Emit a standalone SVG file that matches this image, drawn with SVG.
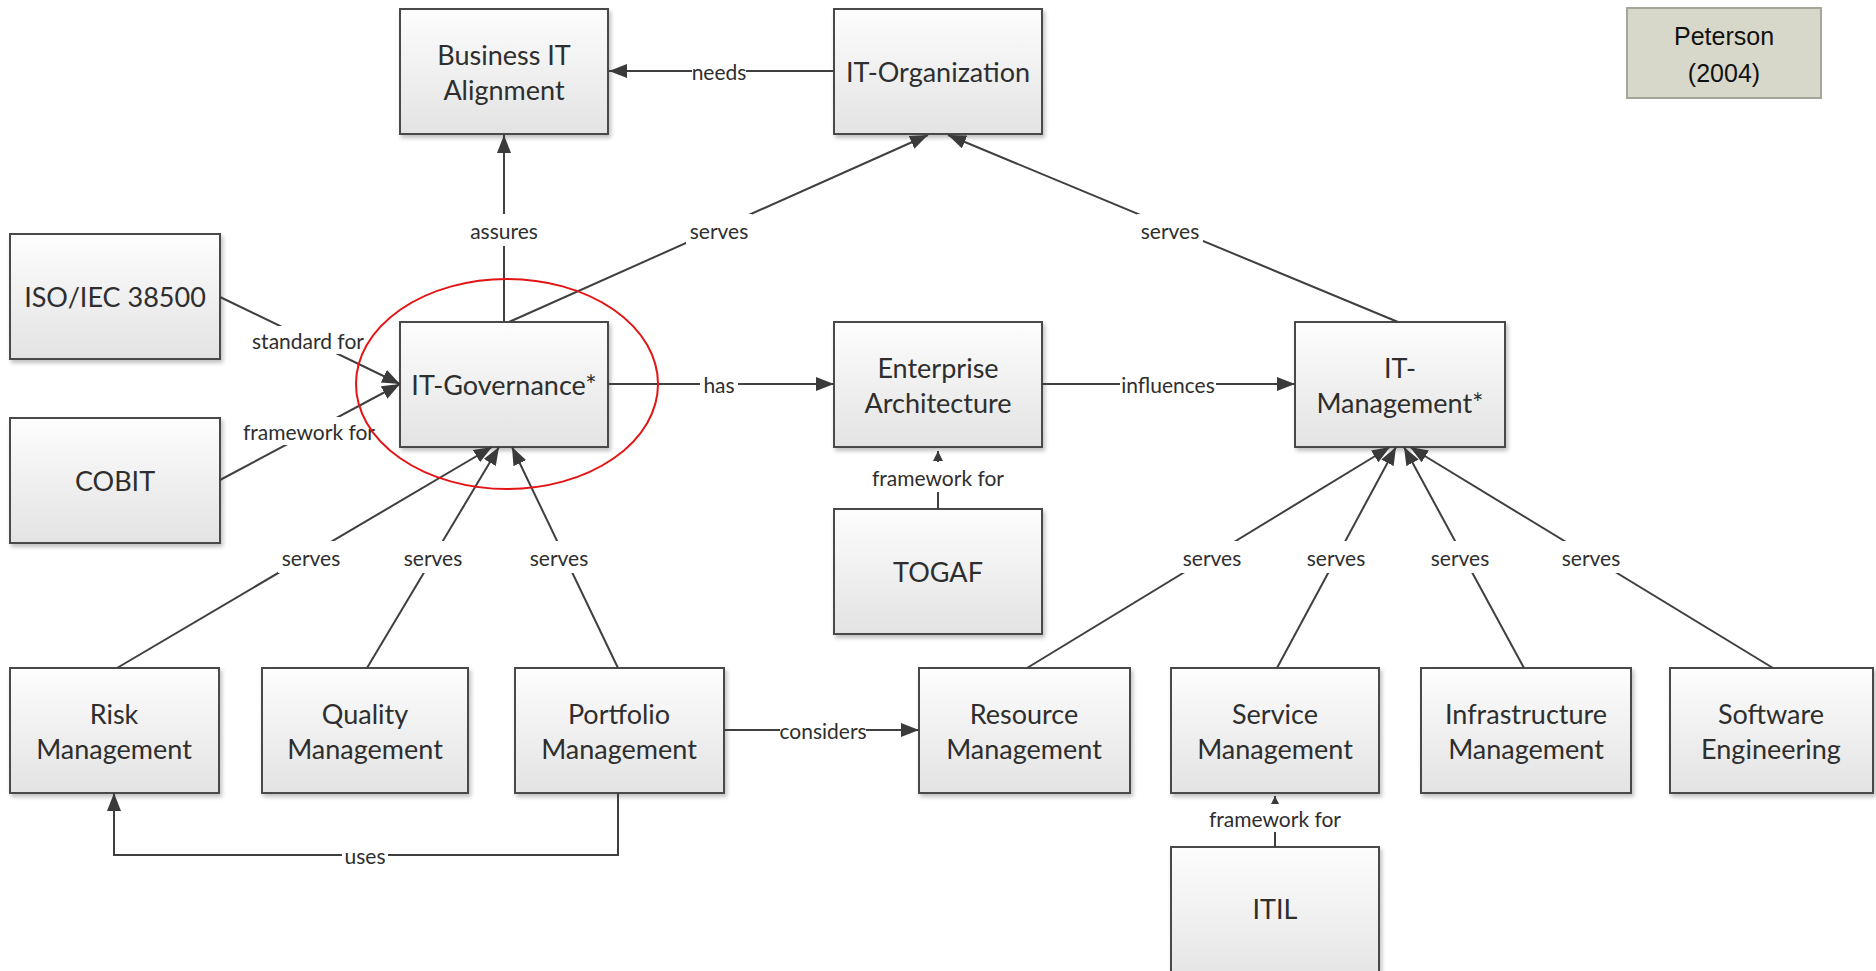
<svg xmlns="http://www.w3.org/2000/svg" width="1876" height="971" viewBox="0 0 1876 971">
<defs>
<linearGradient id="g" x1="0" y1="0" x2="0" y2="1"><stop offset="0" stop-color="#fdfdfd"/><stop offset="1" stop-color="#e3e3e3"/></linearGradient>
<filter id="sh" x="-10%" y="-10%" width="130%" height="130%"><feGaussianBlur in="SourceAlpha" stdDeviation="2"/><feOffset dx="2" dy="3"/><feComponentTransfer><feFuncA type="linear" slope="0.25"/></feComponentTransfer><feMerge><feMergeNode/><feMergeNode in="SourceGraphic"/></feMerge></filter>
<marker id="ah" markerUnits="userSpaceOnUse" markerWidth="18" markerHeight="14" refX="18" refY="7" orient="auto"><path d="M0,0 L18,7 L0,14 z" fill="#3a3a3a"/></marker>
<marker id="as" markerUnits="userSpaceOnUse" markerWidth="10" markerHeight="10" refX="10" refY="5" orient="auto"><path d="M0,0 L10,5 L0,10 z" fill="#3a3a3a"/></marker>
</defs>
<style>
.box rect{fill:url(#g);stroke:#4a4a4a;stroke-width:2;filter:url(#sh)}
.box text{font-family:Lato,"Open Sans",sans-serif;font-size:27px;fill:#2e2e2e;text-anchor:middle;dominant-baseline:central}
.c line,.c polyline{stroke:#3f3f3f;stroke-width:2;fill:none}
.lb rect{fill:#fff}
.lb text{font-family:Lato,"Open Sans",sans-serif;font-size:21px;fill:#2e2e2e;text-anchor:middle;dominant-baseline:central}
.pt{font-family:"Liberation Sans",Arial,sans-serif;font-size:25px;fill:#111;text-anchor:middle}
</style>
<rect width="1876" height="971" fill="#fff"/>

<g id="n-bita" class="box"><rect x="400" y="9" width="208" height="125"/><text x="504" y="54">Business IT</text><text x="504" y="89">Alignment</text></g>
<g id="n-itorg" class="box"><rect x="834" y="9" width="208" height="125"/><text x="938" y="71">IT-Organization</text></g>
<g id="n-iso" class="box"><rect x="10" y="234" width="210" height="125"/><text x="115" y="296">ISO/IEC 38500</text></g>
<g id="n-cobit" class="box"><rect x="10" y="418" width="210" height="125"/><text x="115" y="480">COBIT</text></g>
<g id="n-itgov" class="box"><rect x="400" y="322" width="208" height="125"/><text x="504" y="384">IT-Governance*</text></g>
<g id="n-ea" class="box"><rect x="834" y="322" width="208" height="125"/><text x="938" y="367">Enterprise</text><text x="938" y="402">Architecture</text></g>
<g id="n-itmgmt" class="box"><rect x="1295" y="322" width="210" height="125"/><text x="1400" y="367">IT-</text><text x="1400" y="402">Management*</text></g>
<g id="n-togaf" class="box"><rect x="834" y="509" width="208" height="125"/><text x="938" y="571">TOGAF</text></g>
<g id="n-risk" class="box"><rect x="10" y="668" width="209" height="125"/><text x="114" y="713">Risk</text><text x="114" y="748">Management</text></g>
<g id="n-quality" class="box"><rect x="262" y="668" width="206" height="125"/><text x="365" y="713">Quality</text><text x="365" y="748">Management</text></g>
<g id="n-portfolio" class="box"><rect x="515" y="668" width="209" height="125"/><text x="619" y="713">Portfolio</text><text x="619" y="748">Management</text></g>
<g id="n-resource" class="box"><rect x="919" y="668" width="211" height="125"/><text x="1024" y="713">Resource</text><text x="1024" y="748">Management</text></g>
<g id="n-service" class="box"><rect x="1171" y="668" width="208" height="125"/><text x="1275" y="713">Service</text><text x="1275" y="748">Management</text></g>
<g id="n-infra" class="box"><rect x="1421" y="668" width="210" height="125"/><text x="1526" y="713">Infrastructure</text><text x="1526" y="748">Management</text></g>
<g id="n-software" class="box"><rect x="1670" y="668" width="203" height="125"/><text x="1771" y="713">Software</text><text x="1771" y="748">Engineering</text></g>
<g id="n-itil" class="box"><rect x="1171" y="847" width="208" height="140"/><text x="1275" y="908">ITIL</text></g>

<g id="n-peterson"><rect x="1627" y="8" width="194" height="90" fill="#d8d8ca" stroke="#a5a59a" stroke-width="2"/><text class="pt" x="1724" y="45">Peterson</text><text class="pt" x="1724" y="82">(2004)</text></g>

<g id="connectors" class="c">
<line x1="834" y1="71" x2="609" y2="71" marker-end="url(#ah)"/>
<line x1="504" y1="322" x2="504" y2="135" marker-end="url(#ah)"/>
<line x1="509" y1="322" x2="928" y2="135" marker-end="url(#ah)"/>
<line x1="1398" y1="322" x2="948" y2="135" marker-end="url(#ah)"/>
<line x1="220" y1="297" x2="400" y2="384" marker-end="url(#ah)"/>
<line x1="220" y1="480" x2="400" y2="384" marker-end="url(#ah)"/>
<line x1="608" y1="384" x2="834" y2="384" marker-end="url(#ah)"/>
<line x1="1042" y1="384" x2="1295" y2="384" marker-end="url(#ah)"/>
<line x1="938" y1="509" x2="938" y2="451" marker-end="url(#as)"/>
<line x1="117" y1="668" x2="492" y2="447" marker-end="url(#ah)"/>
<line x1="367" y1="668" x2="499" y2="447" marker-end="url(#ah)"/>
<line x1="618" y1="668" x2="512" y2="447" marker-end="url(#ah)"/>
<line x1="724" y1="730" x2="919" y2="730" marker-end="url(#ah)"/>
<polyline points="618,793 618,855 114,855 114,793" marker-end="url(#ah)"/>
<line x1="1027" y1="668" x2="1390" y2="447" marker-end="url(#ah)"/>
<line x1="1277" y1="668" x2="1396" y2="447" marker-end="url(#ah)"/>
<line x1="1524" y1="668" x2="1404" y2="447" marker-end="url(#ah)"/>
<line x1="1773" y1="668" x2="1410" y2="447" marker-end="url(#ah)"/>
<line x1="1275" y1="847" x2="1275" y2="796" marker-end="url(#as)"/>
<g class="lb"><rect x="692" y="60" width="54" height="22"/><text x="719" y="71">needs</text></g>
<g class="lb"><rect x="466" y="214" width="76" height="32"/><text x="504" y="230">assures</text></g>
<g class="lb"><rect x="686" y="214" width="66" height="32"/><text x="719" y="230">serves</text></g>
<g class="lb"><rect x="1137" y="214" width="66" height="32"/><text x="1170" y="230">serves</text></g>
<g class="lb"><rect x="250" y="326" width="118" height="28"/><text x="308" y="340">standard for</text></g>
<g class="lb"><rect x="242" y="417" width="134" height="28"/><text x="309" y="431">framework for</text></g>
<g class="lb"><rect x="700" y="373" width="38" height="22"/><text x="719" y="384">has</text></g>
<g class="lb"><rect x="1120" y="373" width="96" height="22"/><text x="1168" y="384">influences</text></g>
<g class="lb"><rect x="872" y="462" width="132" height="30"/><text x="938" y="477">framework for</text></g>
<g class="lb"><rect x="278" y="541" width="66" height="32"/><text x="311" y="557">serves</text></g>
<g class="lb"><rect x="400" y="541" width="66" height="32"/><text x="433" y="557">serves</text></g>
<g class="lb"><rect x="526" y="541" width="66" height="32"/><text x="559" y="557">serves</text></g>
<g class="lb"><rect x="780" y="719" width="86" height="22"/><text x="823" y="730">considers</text></g>
<g class="lb"><rect x="342" y="844" width="46" height="22"/><text x="365" y="855">uses</text></g>
<g class="lb"><rect x="1179" y="541" width="66" height="32"/><text x="1212" y="557">serves</text></g>
<g class="lb"><rect x="1303" y="541" width="66" height="32"/><text x="1336" y="557">serves</text></g>
<g class="lb"><rect x="1427" y="541" width="66" height="32"/><text x="1460" y="557">serves</text></g>
<g class="lb"><rect x="1558" y="541" width="66" height="32"/><text x="1591" y="557">serves</text></g>
<g class="lb"><rect x="1209" y="804" width="132" height="28"/><text x="1275" y="818">framework for</text></g>
</g>

<ellipse id="highlight" cx="507" cy="384" rx="151" ry="105" fill="none" stroke="#e41414" stroke-width="2"/>
</svg>
